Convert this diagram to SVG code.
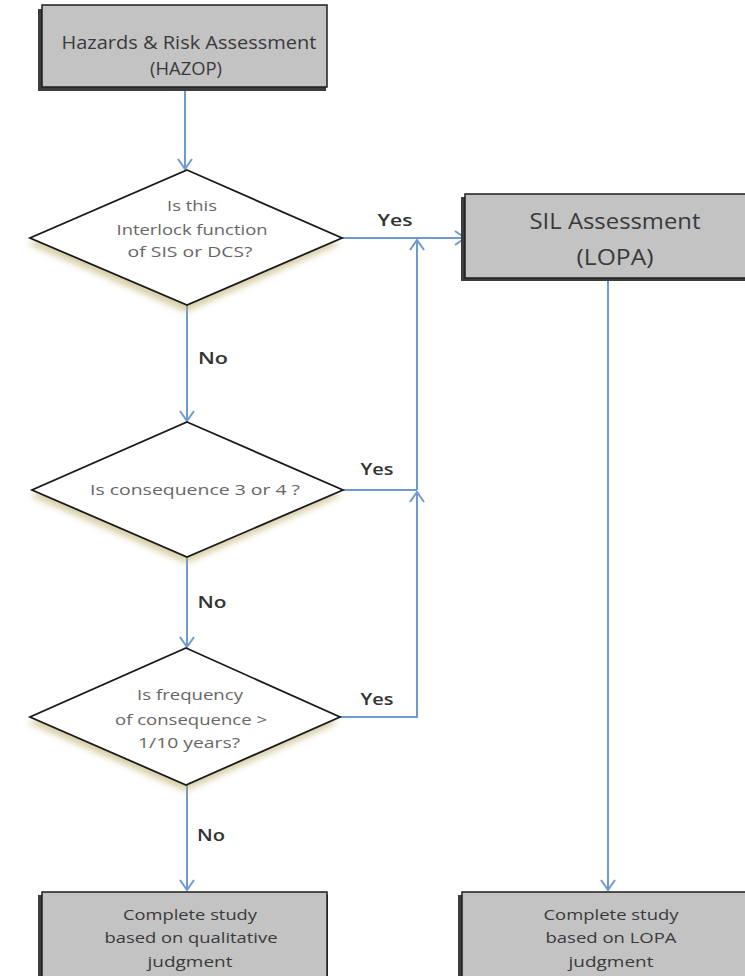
<svg xmlns="http://www.w3.org/2000/svg" width="745" height="976" viewBox="0 0 745 976">
<style>
.box{fill:#c3c3c3;stroke:#1e1e1e;stroke-width:1.5}
.boxsh{fill:#3c3c3c}
.dia{fill:#ffffff;stroke:#1a1a1a;stroke-width:1.8}
.diash{fill:#b8a860;opacity:0.55}
.bt{font-family:"Open Sans","Liberation Sans",sans-serif;fill:#3a3a3a;text-anchor:middle}
.dt{font-family:"Open Sans","Liberation Sans",sans-serif;fill:#666666;text-anchor:middle;font-size:15px}
.lbl{font-family:"Open Sans","Liberation Sans",sans-serif;fill:#333333;font-weight:600;font-size:17px;text-anchor:middle}
.ln{fill:none;stroke:#6e9ad0;stroke-width:2}
</style>
<defs>
<filter id="blur" x="-20%" y="-20%" width="140%" height="140%"><feGaussianBlur stdDeviation="3"/></filter>
<marker id="ah" viewBox="0 0 12 16" refX="11" refY="8" markerWidth="12" markerHeight="16" markerUnits="userSpaceOnUse" orient="auto">
<path d="M1,1 L11,8 L1,15" fill="none" stroke="#6e9ad0" stroke-width="2"/>
</marker>
</defs>
<rect width="745" height="976" fill="#ffffff"/>

<g id="connectors">
<line class="ln" x1="185" y1="90" x2="185" y2="169" marker-end="url(#ah)"/>
<line class="ln" x1="342" y1="238" x2="465" y2="238" marker-end="url(#ah)"/>
<line class="ln" x1="187" y1="305" x2="187" y2="421" marker-end="url(#ah)"/>
<polyline class="ln" points="343,490 417,490"/>
<line class="ln" x1="417" y1="490" x2="417" y2="240" marker-end="url(#ah)"/>
<line class="ln" x1="187" y1="557" x2="187" y2="647" marker-end="url(#ah)"/>
<polyline class="ln" points="340,717 417,717 417,492"/>
<line class="ln" x1="417" y1="717" x2="417" y2="492" marker-end="url(#ah)"/>
<line class="ln" x1="187" y1="785" x2="187" y2="890" marker-end="url(#ah)"/>
<line class="ln" x1="608" y1="279" x2="608" y2="890" marker-end="url(#ah)"/>
<text class="lbl" x="395" y="226" textLength="35" lengthAdjust="spacingAndGlyphs">Yes</text>
<text class="lbl" x="377" y="475" textLength="33" lengthAdjust="spacingAndGlyphs">Yes</text>
<text class="lbl" x="377" y="705" textLength="33" lengthAdjust="spacingAndGlyphs">Yes</text>
<text class="lbl" x="213" y="364" textLength="30" lengthAdjust="spacingAndGlyphs">No</text>
<text class="lbl" x="212" y="608" textLength="29" lengthAdjust="spacingAndGlyphs">No</text>
<text class="lbl" x="211" y="841" textLength="28" lengthAdjust="spacingAndGlyphs">No</text>
</g>

<g id="hazop">
<rect class="boxsh" x="38" y="9" width="288" height="82"/>
<rect class="box" x="42" y="5" width="285" height="82"/>
<text class="bt" x="189" y="49" font-size="19" textLength="255" lengthAdjust="spacingAndGlyphs">Hazards &amp; Risk Assessment</text>
<text class="bt" x="186" y="75" font-size="19" textLength="72" lengthAdjust="spacingAndGlyphs">(HAZOP)</text>
</g>

<g id="decision1">
<polygon class="diash" points="186,176 340,244 186,312 28,244" filter="url(#blur)"/>
<polygon class="dia" points="187,170 342,238 187,305 30,238"/>
<text class="dt" x="192" y="211" textLength="50" lengthAdjust="spacingAndGlyphs">Is this</text>
<text class="dt" x="192" y="235" textLength="151" lengthAdjust="spacingAndGlyphs">Interlock function</text>
<text class="dt" x="190" y="257" textLength="125" lengthAdjust="spacingAndGlyphs">of SIS or DCS?</text>
</g>

<g id="sil">
<rect class="boxsh" x="461" y="197" width="300" height="84"/>
<rect class="box" x="465" y="194" width="300" height="84"/>
<text class="bt" x="615" y="229" font-size="21" textLength="171" lengthAdjust="spacingAndGlyphs">SIL Assessment</text>
<text class="bt" x="615" y="265" font-size="21" textLength="77" lengthAdjust="spacingAndGlyphs">(LOPA)</text>
</g>

<g id="decision2">
<polygon class="diash" points="186,428 341,496 186,563 30,496" filter="url(#blur)"/>
<polygon class="dia" points="187,422 343,490 187,557 32,490"/>
<text class="dt" x="195" y="495" textLength="210" lengthAdjust="spacingAndGlyphs">Is consequence  3 or 4  ?</text>
</g>

<g id="decision3">
<polygon class="diash" points="185,654 338,723 185,791 28,723" filter="url(#blur)"/>
<polygon class="dia" points="186,648 340,717 186,785 30,717"/>
<text class="dt" x="190" y="700" textLength="106" lengthAdjust="spacingAndGlyphs">Is frequency</text>
<text class="dt" x="191" y="725" textLength="152" lengthAdjust="spacingAndGlyphs">of consequence &gt;</text>
<text class="dt" x="189" y="748" textLength="102" lengthAdjust="spacingAndGlyphs">1/10 years?</text>
</g>

<g id="qualitative">
<rect class="boxsh" x="38" y="895" width="290" height="90"/>
<rect class="box" x="42" y="892" width="285" height="90"/>
<text class="bt" x="190" y="920" font-size="15" textLength="134" lengthAdjust="spacingAndGlyphs">Complete study</text>
<text class="bt" x="191" y="943" font-size="15" textLength="173" lengthAdjust="spacingAndGlyphs">based on qualitative</text>
<text class="bt" x="190" y="967" font-size="15" textLength="85" lengthAdjust="spacingAndGlyphs">judgment</text>
</g>

<g id="lopa">
<rect class="boxsh" x="458" y="895" width="300" height="90"/>
<rect class="box" x="462" y="892" width="300" height="90"/>
<text class="bt" x="611" y="920" font-size="15" textLength="135" lengthAdjust="spacingAndGlyphs">Complete study</text>
<text class="bt" x="611" y="943" font-size="15" textLength="131" lengthAdjust="spacingAndGlyphs">based on LOPA</text>
<text class="bt" x="611" y="967" font-size="15" textLength="85" lengthAdjust="spacingAndGlyphs">judgment</text>
</g>
</svg>
